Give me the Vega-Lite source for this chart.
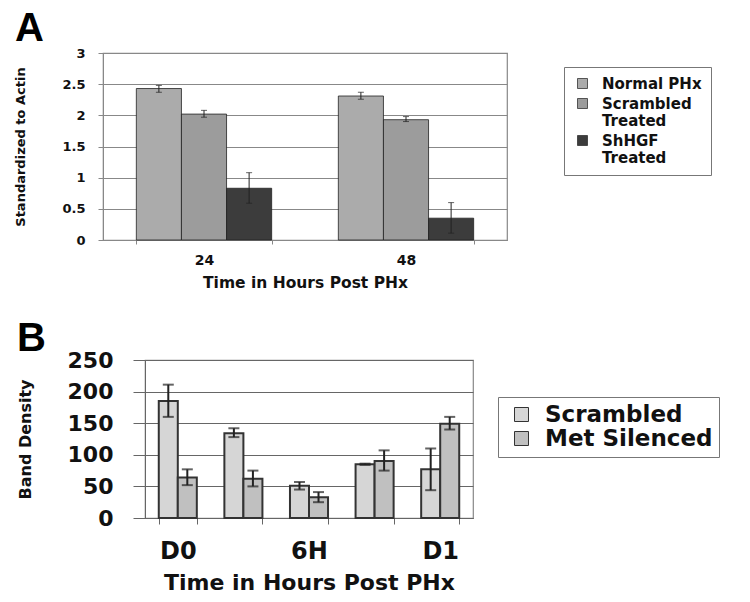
{
  "$schema": "https://vega.github.io/schema/vega-lite/v6.json",
  "padding": {"left": 14, "top": 8, "right": 0, "bottom": 0},
  "background": "white",
  "config": {
    "font": "DejaVu Sans",
    "view": {"stroke": "#888", "strokeWidth": 1.2},
    "axis": {"labelColor": "#111", "titleColor": "#111", "labelFontWeight": "bold", "titleFontWeight": "bold"},
    "legend": {"labelColor": "#111", "labelFontWeight": "bold"}
  },
  "spacing": 26,
  "resolve": {"scale": {"color": "independent", "x": "independent", "y": "independent", "xOffset": "independent"}, "legend": {"color": "independent"}},
  "vconcat": [
    {
      "title": {"text": "A", "anchor": "start", "font": "Liberation Sans", "fontSize": 40, "fontWeight": "bold", "offset": -2, "frame": "bounds"},
      "width": 404,
      "height": 187,
      "data": {"values": [
        {"time": "24", "group": "Normal PHx", "value": 2.43, "lo": 2.37, "hi": 2.48},
        {"time": "24", "group": "Scrambled Treated", "value": 2.02, "lo": 1.97, "hi": 2.08},
        {"time": "24", "group": "ShHGF Treated", "value": 0.83, "lo": 0.59, "hi": 1.08},
        {"time": "48", "group": "Normal PHx", "value": 2.31, "lo": 2.26, "hi": 2.37},
        {"time": "48", "group": "Scrambled Treated", "value": 1.93, "lo": 1.90, "hi": 1.98},
        {"time": "48", "group": "ShHGF Treated", "value": 0.35, "lo": 0.11, "hi": 0.60}
      ]},
      "encoding": {
        "x": {"field": "time", "type": "nominal", "sort": ["24", "48"],
          "scale": {"paddingInner": 0.33, "paddingOuter": 0.165},
          "axis": {"title": "Time in Hours Post PHx", "labelAngle": 0, "tickBand": "extent", "domainColor": "#888", "tickColor": "#888", "tickSize": 4,
            "labelFontSize": 14, "labelPadding": 9, "titleFontSize": 15.5, "titlePadding": 8, "grid": false}},
        "xOffset": {"field": "group", "type": "nominal", "sort": ["Normal PHx", "Scrambled Treated", "ShHGF Treated"], "scale": {"paddingInner": 0, "paddingOuter": 0}}
      },
      "layer": [
        {
          "mark": {"type": "bar", "stroke": "#222", "strokeWidth": 0.8},
          "encoding": {
            "y": {"field": "value", "type": "quantitative", "title": "Standardized to Actin", "scale": {"domain": [0, 3], "padding": 0, "nice": false},
              "axis": {"values": [0, 0.5, 1, 1.5, 2, 2.5, 3], "format": "~g", "grid": true, "gridColor": "#888",
                "domainColor": "#888", "tickColor": "#888", "tickSize": 5, "labelFontSize": 13, "labelPadding": 13,
                "titleFontSize": 13, "titlePadding": 34}},
            "color": {"field": "group", "type": "nominal",
              "scale": {"domain": ["Normal PHx", "Scrambled Treated", "ShHGF Treated"], "range": ["#ababab", "#9c9c9c", "#3c3c3c"]},
              "legend": {"orient": "none", "legendX": 461, "legendY": 14, "title": null, "strokeColor": "#777", "padding": 9, "symbolOffset": 2,
                "symbolType": "square", "symbolSize": 100, "symbolStrokeColor": "#333", "symbolStrokeWidth": 0.8, "symbolOpacity": 1,
                "labelFontSize": 15, "labelOffset": 12, "rowPadding": 4, "labelLimit": 250,
                "labelExpr": "datum.label == 'Scrambled Treated' ? ['Scrambled', 'Treated'] : datum.label == 'ShHGF Treated' ? ['ShHGF', 'Treated'] : datum.label"}}
          }
        },
        {
          "mark": {"type": "rule", "color": "#222", "strokeWidth": 1},
          "encoding": {"y": {"field": "lo", "type": "quantitative", "title": "Standardized to Actin", "scale": {"domain": [0, 3], "padding": 0, "nice": false},
              "axis": {"values": [0, 0.5, 1, 1.5, 2, 2.5, 3], "format": "~g", "grid": true, "gridColor": "#888",
                "domainColor": "#888", "tickColor": "#888", "tickSize": 5, "labelFontSize": 13, "labelPadding": 13,
                "titleFontSize": 13, "titlePadding": 34}}, "y2": {"field": "hi"}}
        },
        {
          "mark": {"type": "tick", "color": "#222", "size": 6, "thickness": 1},
          "encoding": {"y": {"field": "lo", "type": "quantitative", "title": "Standardized to Actin", "scale": {"domain": [0, 3], "padding": 0, "nice": false},
              "axis": {"values": [0, 0.5, 1, 1.5, 2, 2.5, 3], "format": "~g", "grid": true, "gridColor": "#888",
                "domainColor": "#888", "tickColor": "#888", "tickSize": 5, "labelFontSize": 13, "labelPadding": 13,
                "titleFontSize": 13, "titlePadding": 34}}}
        },
        {
          "mark": {"type": "tick", "color": "#222", "size": 6, "thickness": 1},
          "encoding": {"y": {"field": "hi", "type": "quantitative", "title": "Standardized to Actin", "scale": {"domain": [0, 3], "padding": 0, "nice": false},
              "axis": {"values": [0, 0.5, 1, 1.5, 2, 2.5, 3], "format": "~g", "grid": true, "gridColor": "#888",
                "domainColor": "#888", "tickColor": "#888", "tickSize": 5, "labelFontSize": 13, "labelPadding": 13,
                "titleFontSize": 13, "titlePadding": 34}}}
        }
      ]
    },
    {"spacing": -88, "hconcat": [
    {"width": 1, "height": 1, "data": {"values": []}, "mark": "point", "encoding": {}, "view": {"stroke": null}},
    {
      "title": {"text": "B", "anchor": "start", "font": "Liberation Sans", "fontSize": 40, "fontWeight": "bold", "offset": -10, "frame": "bounds"},
      "width": 328,
      "height": 158,
      "data": {"values": [
        {"time": "D0", "series": "Scrambled", "value": 185, "lo": 160, "hi": 211},
        {"time": "D0", "series": "Met Silenced", "value": 64, "lo": 52, "hi": 77},
        {"time": "3H", "series": "Scrambled", "value": 134, "lo": 128, "hi": 142},
        {"time": "3H", "series": "Met Silenced", "value": 62, "lo": 50, "hi": 75},
        {"time": "6H", "series": "Scrambled", "value": 51, "lo": 45, "hi": 57},
        {"time": "6H", "series": "Met Silenced", "value": 33, "lo": 25, "hi": 41},
        {"time": "12H", "series": "Scrambled", "value": 85, "lo": 84, "hi": 86},
        {"time": "12H", "series": "Met Silenced", "value": 90, "lo": 75, "hi": 107},
        {"time": "D1", "series": "Scrambled", "value": 77, "lo": 44, "hi": 110},
        {"time": "D1", "series": "Met Silenced", "value": 149, "lo": 140, "hi": 160}
      ]},
      "encoding": {
        "x": {"field": "time", "type": "nominal", "sort": ["D0", "3H", "6H", "12H", "D1"],
          "scale": {"paddingInner": 0.42, "paddingOuter": 0.21},
          "axis": {"title": "Time in Hours Post PHx", "labelAngle": 0, "tickBand": "extent", "domainColor": "#666", "tickColor": "#666", "tickSize": 6,
            "labelExpr": "indexof(['D0', '6H', 'D1'], datum.label) >= 0 ? datum.label : ''",
            "labelFontSize": 24, "labelPadding": 15, "titleFontSize": 22, "titlePadding": 9, "grid": false}},
        "xOffset": {"field": "series", "type": "nominal", "sort": ["Scrambled", "Met Silenced"], "scale": {"paddingInner": 0, "paddingOuter": 0}}
      },
      "layer": [
        {
          "mark": {"type": "bar", "stroke": "#333", "strokeWidth": 2},
          "encoding": {
            "y": {"field": "value", "type": "quantitative", "title": "Band Density", "scale": {"domain": [0, 250], "padding": 0, "nice": false},
              "axis": {"values": [0, 50, 100, 150, 200, 250], "grid": true, "gridColor": "#666",
                "domainColor": "#666", "tickColor": "#666", "tickSize": 12, "labelFontSize": 22, "labelPadding": 20,
                "titleFontSize": 16, "titlePadding": 34}},
            "color": {"field": "series", "type": "nominal",
              "scale": {"domain": ["Scrambled", "Met Silenced"], "range": ["#d6d6d6", "#c0c0c0"]},
              "legend": {"orient": "none", "legendX": 395, "legendY": 37, "title": null, "strokeColor": "#777", "padding": 6, "symbolOffset": 6,
                "symbolType": "square", "symbolSize": 196, "symbolStrokeColor": "#333", "symbolStrokeWidth": 1, "symbolOpacity": 1,
                "labelFontSize": 23, "labelOffset": 12, "rowPadding": 0, "labelLimit": 300}}
          }
        },
        {
          "mark": {"type": "rule", "color": "#222", "strokeWidth": 2},
          "encoding": {"y": {"field": "lo", "type": "quantitative", "title": "Band Density", "scale": {"domain": [0, 250], "padding": 0, "nice": false},
              "axis": {"values": [0, 50, 100, 150, 200, 250], "grid": true, "gridColor": "#666",
                "domainColor": "#666", "tickColor": "#666", "tickSize": 12, "labelFontSize": 22, "labelPadding": 20,
                "titleFontSize": 16, "titlePadding": 34}}, "y2": {"field": "hi"}}
        },
        {
          "mark": {"type": "tick", "color": "#222", "size": 11, "thickness": 2},
          "encoding": {"y": {"field": "lo", "type": "quantitative", "title": "Band Density", "scale": {"domain": [0, 250], "padding": 0, "nice": false},
              "axis": {"values": [0, 50, 100, 150, 200, 250], "grid": true, "gridColor": "#666",
                "domainColor": "#666", "tickColor": "#666", "tickSize": 12, "labelFontSize": 22, "labelPadding": 20,
                "titleFontSize": 16, "titlePadding": 34}}}
        },
        {
          "mark": {"type": "tick", "color": "#222", "size": 11, "thickness": 2},
          "encoding": {"y": {"field": "hi", "type": "quantitative", "title": "Band Density", "scale": {"domain": [0, 250], "padding": 0, "nice": false},
              "axis": {"values": [0, 50, 100, 150, 200, 250], "grid": true, "gridColor": "#666",
                "domainColor": "#666", "tickColor": "#666", "tickSize": 12, "labelFontSize": 22, "labelPadding": 20,
                "titleFontSize": 16, "titlePadding": 34}}}
        }
      ]
    }]}
  ]
}
